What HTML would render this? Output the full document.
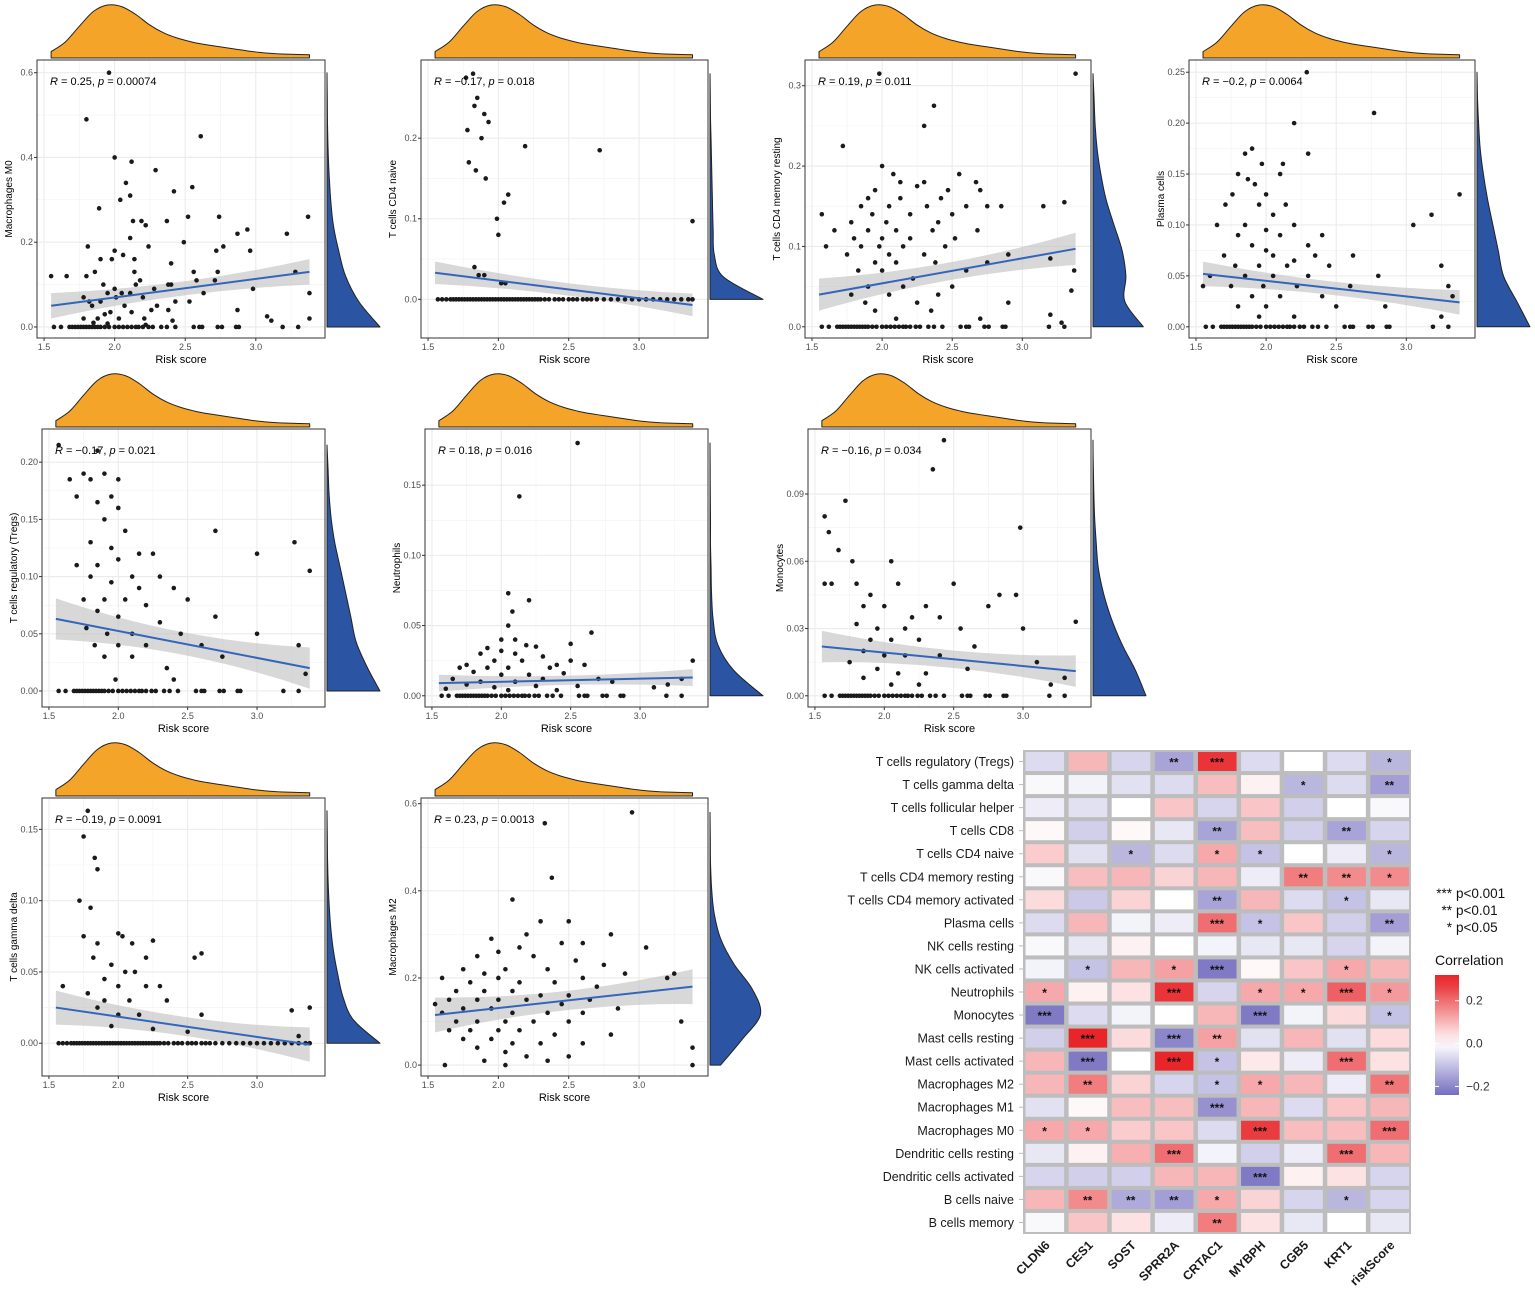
<!DOCTYPE html>
<html><head><meta charset="utf-8"><style>
html,body{margin:0;padding:0;background:#fff;}
svg{display:block;font-family:"Liberation Sans",Arial,sans-serif;}
</style></head><body>
<svg id="fig" width="1535" height="1293" viewBox="0 0 1535 1293"></svg>
<script>
// ---------- DATA ----------
const topDensityX = [1.55,1.65,1.75,1.85,1.95,2.05,2.15,2.25,2.35,2.45,2.55,2.65,2.75,2.85,2.95,3.05,3.15,3.25,3.38];
const topDensityY = [0.12,0.3,0.6,0.88,1.0,0.97,0.82,0.62,0.47,0.37,0.3,0.25,0.21,0.17,0.13,0.1,0.08,0.07,0.06];
const zeroSparse = [1.57,1.62,1.68,1.7,1.72,1.74,1.76,1.78,1.8,1.82,1.84,1.86,1.88,1.9,1.93,1.96,2.0,2.03,2.06,2.09,2.12,2.15,2.17,2.2,2.24,2.27,2.33,2.37,2.43,2.56,2.6,2.62,2.73,2.76,2.86,2.88,3.19,3.3];
const zeroDense = [1.57,1.6,1.63,1.66,1.68,1.7,1.72,1.74,1.76,1.78,1.8,1.82,1.84,1.86,1.88,1.9,1.92,1.94,1.96,1.98,2.0,2.02,2.04,2.06,2.08,2.1,2.12,2.14,2.16,2.18,2.2,2.22,2.24,2.26,2.28,2.3,2.33,2.36,2.4,2.43,2.46,2.5,2.53,2.56,2.6,2.63,2.66,2.7,2.75,2.8,2.85,2.9,2.95,3.0,3.05,3.1,3.15,3.2,3.25,3.3,3.35,3.38];

const panelNames = ["Macrophages M0","T cells CD4 naive","T cells CD4 memory resting","Plasma cells","T cells regulatory (Tregs)","Neutrophils","Monocytes","T cells gamma delta","Macrophages M2"];
const panelR = ["0.25","\u22120.17","0.19","\u22120.2","\u22120.17","0.18","\u22120.16","\u22120.19","0.23"];
const panelP = ["0.00074","0.018","0.011","0.0064","0.021","0.016","0.034","0.0091","0.0013"];
const panelYTicks = [[0,0.2,0.4,0.6],[0,0.1,0.2],[0,0.1,0.2,0.3],[0,0.05,0.1,0.15,0.2,0.25],[0,0.05,0.1,0.15,0.2],[0,0.05,0.1,0.15],[0,0.03,0.06,0.09],[0,0.05,0.1,0.15],[0,0.2,0.4,0.6]];
const panelYTickLabels = [["0.0","0.2","0.4","0.6"],["0.0","0.1","0.2"],["0.0","0.1","0.2","0.3"],["0.00","0.05","0.10","0.15","0.20","0.25"],["0.00","0.05","0.10","0.15","0.20"],["0.00","0.05","0.10","0.15"],["0.00","0.03","0.06","0.09"],["0.00","0.05","0.10","0.15"],["0.0","0.2","0.4","0.6"]];
const panelYDomain = [[-0.026,0.63],[-0.048,0.297],[-0.014,0.332],[-0.011,0.262],[-0.014,0.229],[-0.008,0.19],[-0.005,0.119],[-0.023,0.172],[-0.025,0.613]];
const fitStart = [0.05,0.033,0.04,0.052,0.063,0.009,0.022,0.025,0.115];
const fitEnd = [0.13,-0.007,0.097,0.024,0.02,0.013,0.011,-0.001,0.18];
const bandHalf = [0.03,0.014,0.02,0.012,0.018,0.006,0.007,0.012,0.04];
const rightDensity = [
 [1,0.6,0.35,0.22,0.12,0.07,0.04,0.02,0.01,0.005,0],
 [1,0.25,0.08,0.06,0.05,0.04,0.03,0.02,0.01,0.005,0],
 [0.95,0.6,0.62,0.55,0.4,0.25,0.15,0.08,0.04,0.02,0],
 [1,0.75,0.5,0.4,0.3,0.2,0.12,0.06,0.03,0.01,0],
 [1,0.75,0.55,0.45,0.35,0.25,0.15,0.08,0.04,0.02,0],
 [1,0.45,0.15,0.06,0.03,0.02,0.01,0.01,0.005,0.003,0],
 [1,0.8,0.55,0.35,0.2,0.1,0.06,0.03,0.015,0.005,0],
 [1,0.5,0.3,0.2,0.12,0.07,0.04,0.02,0.01,0.005,0],
 [0.2,0.6,0.95,0.8,0.45,0.2,0.08,0.03,0.01,0.005,0]];
const densityMax = [0.6,0.28,0.315,0.25,0.215,0.18,0.114,0.163,0.58];
const panelZeros = [zeroSparse,zeroDense,zeroSparse,zeroSparse,zeroSparse,zeroSparse,zeroSparse,zeroDense,[]];
const panelPts = [
 [[1.8,.49],[1.96,.6],[2.0,.4],[2.12,.39],[2.61,.45],[2.29,.37],[2.08,.34],[2.11,.31],[2.04,.3],[2.42,.32],[2.55,.33],[1.89,.28],[2.13,.25],[2.19,.25],[2.37,.25],[2.52,.26],[2.74,.26],[3.37,.26],[2.22,.24],[2.11,.21],[3.22,.22],[2.94,.23],[2.87,.22],[2.49,.2],[1.81,.19],[2.0,.18],[2.24,.19],[2.72,.18],[2.77,.19],[2.96,.18],[1.9,.16],[1.98,.16],[2.06,.17],[2.14,.16],[2.4,.15],[1.86,.13],[2.14,.13],[2.56,.13],[2.73,.13],[3.28,.13],[1.55,.12],[1.66,.12],[1.8,.12],[2.18,.11],[2.58,.11],[2.71,.11],[1.92,.1],[2.15,.1],[2.38,.1],[2.4,.1],[2.0,.09],[2.28,.09],[2.98,.09],[1.95,.08],[2.05,.08],[2.11,.08],[2.63,.08],[3.38,.08],[1.78,.07],[2.01,.07],[2.2,.07],[1.82,.06],[1.9,.06],[2.07,.05],[2.3,.05],[2.43,.06],[2.53,.06],[1.84,.05],[2.26,.04],[2.38,.04],[2.87,.04],[1.93,.03],[1.97,.035],[2.12,.035],[3.08,.025],[1.78,.02],[1.88,.02],[2.03,.02],[2.21,.02],[2.41,.015],[3.11,.015],[3.38,.02],[1.85,.01],[1.95,.008],[2.22,.005]],
 [[1.77,.275],[1.82,.28],[1.83,.24],[1.85,.25],[1.9,.23],[1.93,.22],[1.78,.21],[1.88,.2],[2.19,.19],[2.72,.185],[1.79,.17],[1.84,.16],[1.91,.15],[2.07,.13],[2.04,.12],[1.99,.1],[3.38,.097],[2.0,.08],[1.83,.04],[1.86,.03],[1.9,.03],[2.02,.02],[2.05,.02]],
 [[1.98,.315],[3.38,.315],[2.37,.275],[2.3,.25],[1.72,.225],[2.0,.2],[2.08,.19],[2.55,.19],[2.13,.18],[2.3,.18],[2.67,.18],[2.25,.175],[1.95,.17],[2.47,.17],[2.7,.17],[1.9,.16],[2.13,.16],[2.42,.16],[3.3,.155],[1.85,.15],[2.05,.15],[2.32,.15],[2.6,.15],[2.75,.15],[1.93,.14],[1.57,.14],[2.2,.14],[2.5,.14],[2.85,.15],[3.15,.15],[1.78,.13],[2.03,.13],[2.4,.13],[1.66,.12],[1.9,.12],[2.1,.12],[2.36,.12],[2.68,.12],[1.8,.11],[2.0,.11],[2.2,.11],[2.52,.11],[1.6,.1],[1.85,.1],[1.98,.1],[2.15,.1],[2.45,.1],[2.9,.09],[1.75,.09],[2.05,.09],[2.3,.09],[3.2,.085],[1.95,.08],[2.1,.08],[2.38,.08],[2.75,.08],[3.37,.07],[1.83,.07],[2.0,.07],[2.22,.06],[2.6,.07],[1.9,.05],[2.15,.05],[2.5,.05],[1.78,.04],[2.05,.04],[2.4,.04],[3.35,.045],[1.88,.03],[2.25,.03],[2.9,.03],[1.95,.02],[2.35,.02],[3.2,.015],[2.1,.01],[2.7,.01],[3.28,.005]],
 [[2.29,.25],[2.77,.21],[3.38,.13],[2.2,.2],[2.3,.17],[1.85,.17],[1.9,.175],[1.97,.16],[2.12,.16],[1.8,.15],[1.92,.14],[1.87,.145],[2.1,.15],[1.76,.13],[2.0,.13],[1.71,.12],[1.95,.12],[2.14,.12],[2.05,.11],[1.65,.1],[1.85,.1],[2.0,.095],[2.2,.1],[3.05,.1],[3.18,.11],[1.8,.09],[2.1,.09],[2.4,.09],[1.9,.08],[2.0,.075],[2.3,.08],[1.7,.07],[2.05,.07],[2.2,.065],[2.35,.07],[2.62,.07],[1.78,.06],[1.95,.06],[2.15,.06],[2.45,.06],[3.25,.06],[1.6,.05],[1.85,.05],[2.05,.05],[2.3,.05],[2.8,.05],[1.55,.04],[1.75,.04],[1.98,.04],[2.22,.04],[2.6,.04],[1.9,.03],[2.1,.03],[2.4,.03],[3.3,.04],[1.8,.02],[2.0,.02],[2.5,.02],[2.85,.02],[3.33,.03],[1.95,.01],[2.2,.01],[3.25,.01]],
 [[1.57,.215],[1.85,.21],[1.9,.19],[1.75,.19],[1.8,.185],[1.95,.17],[2.0,.185],[1.65,.185],[1.7,.17],[1.85,.165],[2.0,.16],[1.9,.15],[2.05,.14],[2.7,.14],[3.27,.13],[1.8,.13],[1.95,.125],[2.15,.12],[2.25,.12],[3.0,.12],[1.7,.11],[1.85,.11],[2.0,.115],[2.1,.1],[2.3,.1],[3.38,.105],[1.8,.1],[1.95,.095],[2.15,.09],[2.4,.09],[1.75,.08],[1.9,.08],[2.05,.08],[2.2,.075],[2.5,.08],[1.85,.07],[2.0,.065],[2.3,.06],[2.7,.065],[1.77,.055],[1.92,.05],[2.1,.05],[2.45,.05],[3.0,.05],[1.83,.04],[2.0,.04],[2.2,.04],[2.6,.04],[3.3,.04],[1.9,.03],[2.1,.03],[2.35,.02],[2.75,.03],[3.35,.015],[1.98,.01],[2.4,.01]],
 [[2.55,.18],[2.13,.142],[2.05,.073],[2.2,.068],[2.08,.06],[2.65,.045],[2.05,.05],[2.0,.04],[2.1,.04],[2.18,.036],[2.5,.037],[1.9,.034],[2.0,.032],[2.25,.035],[1.85,.03],[2.1,.03],[2.3,.028],[2.5,.025],[1.75,.022],[1.95,.025],[2.15,.025],[2.4,.022],[2.6,.022],[1.7,.02],[1.9,.02],[2.05,.02],[2.35,.02],[3.38,.025],[1.8,.017],[2.0,.015],[2.2,.015],[2.45,.016],[2.7,.012],[1.65,.012],[1.85,.01],[2.1,.01],[2.3,.012],[2.8,.01],[3.3,.012],[1.75,.008],[1.95,.006],[2.25,.007],[2.55,.007],[3.1,.006],[1.6,.005],[2.05,.004],[2.4,.004],[3.2,.008]],
 [[2.43,.114],[2.35,.101],[1.72,.087],[1.57,.08],[1.6,.073],[2.98,.075],[1.67,.065],[1.77,.06],[2.05,.06],[1.57,.05],[1.62,.05],[1.8,.05],[1.9,.045],[2.1,.05],[2.3,.04],[2.5,.05],[2.83,.045],[2.95,.045],[3.38,.033],[1.85,.04],[2.0,.04],[2.2,.035],[2.4,.035],[2.75,.04],[1.8,.032],[1.95,.03],[2.15,.03],[2.55,.03],[3.0,.03],[1.9,.025],[2.05,.025],[2.25,.025],[2.65,.022],[1.85,.02],[2.0,.018],[2.15,.018],[2.4,.018],[3.1,.015],[1.75,.015],[1.95,.012],[2.1,.01],[2.3,.01],[2.6,.012],[3.2,.005],[1.85,.008],[2.05,.005],[2.25,.005],[3.3,.008]],
 [[1.78,.163],[1.75,.145],[1.83,.13],[1.85,.122],[1.72,.1],[1.8,.095],[1.75,.075],[2.0,.077],[2.03,.075],[1.85,.07],[2.1,.07],[2.25,.072],[2.2,.06],[2.6,.063],[2.55,.06],[1.82,.06],[1.95,.055],[2.05,.05],[2.12,.05],[1.9,.045],[2.0,.04],[2.2,.04],[2.3,.04],[1.6,.04],[1.78,.035],[1.9,.03],[2.08,.03],[2.35,.03],[1.85,.025],[2.0,.02],[2.15,.02],[2.6,.02],[3.25,.023],[3.38,.025],[1.95,.012],[2.25,.01],[2.5,.008],[3.3,.005]],
 [[2.33,.555],[2.95,.58],[2.38,.43],[2.1,.38],[2.3,.33],[2.5,.33],[2.6,.28],[2.8,.3],[3.05,.27],[3.25,.21],[1.95,.29],[2.2,.3],[2.15,.27],[2.45,.28],[1.85,.25],[2.0,.26],[2.25,.25],[2.55,.24],[2.75,.23],[1.75,.22],[1.9,.21],[2.05,.22],[2.35,.22],[2.6,.2],[2.9,.21],[1.6,.2],[1.8,.19],[2.0,.2],[2.15,.19],[2.4,.19],[2.7,.18],[3.2,.2],[1.55,.14],[1.7,.17],[1.9,.17],[2.1,.17],[2.3,.16],[2.5,.16],[2.65,.15],[1.65,.15],[1.85,.15],[2.0,.15],[2.2,.15],[2.45,.14],[2.85,.13],[1.6,.12],[1.75,.13],[1.95,.13],[2.1,.12],[2.35,.12],[2.6,.12],[3.3,.1],[1.7,.1],[1.85,.1],[2.05,.1],[2.25,.1],[2.5,.1],[1.65,.08],[1.8,.08],[2.0,.08],[2.15,.08],[2.4,.07],[2.8,.07],[1.75,.06],[1.95,.06],[2.1,.05],[2.3,.05],[2.6,.05],[3.38,.04],[1.85,.04],[2.05,.03],[2.2,.02],[2.5,.02],[1.9,.01],[2.35,.01],[3.38,0],[1.62,0],[2.05,0]]];

const hmRows = ["T cells regulatory (Tregs)","T cells gamma delta","T cells follicular helper","T cells CD8","T cells CD4 naive","T cells CD4 memory resting","T cells CD4 memory activated","Plasma cells","NK cells resting","NK cells activated","Neutrophils","Monocytes","Mast cells resting","Mast cells activated","Macrophages M2","Macrophages M1","Macrophages M0","Dendritic cells resting","Dendritic cells activated","B cells naive","B cells memory"];
const hmCols = ["CLDN6","CES1","SOST","SPRR2A","CRTAC1","MYBPH","CGB5","KRT1","riskScore"];
const hmValues = [
 [-0.06,0.1,-0.07,-0.15,0.28,-0.06,0,-0.06,-0.12],
 [-0.01,-0.02,-0.05,-0.06,0.09,0.02,-0.12,-0.06,-0.16],
 [-0.03,-0.05,0,0.08,-0.07,0.08,-0.08,0,-0.01],
 [0.01,-0.08,0.01,-0.04,-0.15,0.09,-0.08,-0.15,-0.07],
 [0.07,-0.05,-0.12,-0.06,0.12,-0.1,0,-0.03,-0.12],
 [-0.01,0.09,0.1,0.06,0.1,-0.03,0.18,0.16,0.16],
 [0.05,-0.09,0.06,0,-0.15,0.1,-0.06,-0.1,-0.04],
 [-0.06,0.1,-0.02,-0.03,0.2,-0.1,0.08,-0.08,-0.16],
 [-0.01,-0.04,0.02,0,-0.02,-0.04,-0.04,-0.07,-0.02],
 [-0.02,-0.1,0.1,0.13,-0.22,0.01,0.08,0.12,0.1],
 [0.12,0.02,0.04,0.28,-0.07,0.12,0.12,0.22,0.14],
 [-0.22,-0.06,-0.02,0,0.1,-0.22,-0.02,0.05,-0.1],
 [-0.08,0.3,0.05,-0.2,0.13,-0.05,0.1,-0.05,0.05],
 [0.1,-0.22,0,0.3,-0.1,0.03,-0.03,0.2,0.04],
 [0.1,0.18,0.06,-0.07,-0.1,0.12,0.1,-0.03,0.19],
 [-0.05,0.01,0.09,0.09,-0.18,0.1,-0.06,0.08,0.1],
 [0.12,0.12,0.07,0.08,-0.06,0.27,0.09,0.09,0.2],
 [-0.04,0.02,0.11,0.2,-0.02,-0.08,-0.03,0.2,0.1],
 [-0.07,-0.08,-0.08,0.1,0.1,-0.22,0.02,0.04,-0.07],
 [0.1,0.16,-0.14,-0.16,0.12,0.06,-0.07,-0.12,-0.07],
 [-0.01,0.08,0.04,-0.03,0.18,0.04,-0.04,0,-0.04]];
const hmSig = [
 ["","","","**","***","","","","*"],
 ["","","","","","","*","","**"],
 ["","","","","","","","",""],
 ["","","","","**","","","**",""],
 ["","","*","","*","*","","","*"],
 ["","","","","","","**","**","*"],
 ["","","","","**","","","*",""],
 ["","","","","***","*","","","**"],
 ["","","","","","","","",""],
 ["","*","","*","***","","","*",""],
 ["*","","","***","","*","*","***","*"],
 ["***","","","","","***","","","*"],
 ["","***","","***","**","","","",""],
 ["","***","","***","*","","","***",""],
 ["","**","","","*","*","","","**"],
 ["","","","","***","","","",""],
 ["*","*","","","","***","","","***"],
 ["","","","***","","","","***",""],
 ["","","","","","***","","",""],
 ["","**","**","**","*","","","*",""],
 ["","","","","**","","","",""]];
const legendTicks = [0.2,0.0,-0.2];
const legendTickLabels = ["0.2","0.0","\u22120.2"];

// ---------- LAYOUT ----------
const NS = "http://www.w3.org/2000/svg";
const svg = document.getElementById('fig');
function mk(tag, attrs, parent, text){
  const e = document.createElementNS(NS, tag);
  for (const k in attrs) e.setAttribute(k, attrs[k]);
  if (text !== undefined) e.textContent = text;
  (parent||svg).appendChild(e);
  return e;
}
// Catmull-Rom smooth path through points (no initial M)
function smooth(pts){
  let d='';
  for (let i=0;i<pts.length-1;i++){
    const p0=pts[Math.max(0,i-1)], p1=pts[i], p2=pts[i+1], p3=pts[Math.min(pts.length-1,i+2)];
    const c1x=p1[0]+(p2[0]-p0[0])/6, c1y=p1[1]+(p2[1]-p0[1])/6;
    const c2x=p2[0]-(p3[0]-p1[0])/6, c2y=p2[1]-(p3[1]-p1[1])/6;
    d+=` C${c1x.toFixed(1)},${c1y.toFixed(1)} ${c2x.toFixed(1)},${c2y.toFixed(1)} ${p2[0].toFixed(1)},${p2[1].toFixed(1)}`;
  }
  return d;
}
const boxL = [37,421,805,1189,42,425,808,42,421];
const boxR = [325,708,1091,1475,325,708,1091,325,708];
const rowOff = [0,0,0,0,369,369,369,738,738];
const xDom = [1.45,3.49];

for (let i=0;i<9;i++){
  const L=boxL[i], R=boxR[i], T=60+rowOff[i], B=338+rowOff[i];
  const g = mk('g',{});
  
  
  const sx = v => L + (v - xDom[0])/(xDom[1]-xDom[0])*(R-L);
  const yd = panelYDomain[i];
  const sy = v => B - (v - yd[0])/(yd[1]-yd[0])*(B-T);
  const bg = mk('rect',{x:L,y:T,width:R-L,height:B-T,fill:'#fff'},g);
   
  [1.75,2.25,2.75,3.25].forEach(v=>mk('line',{x1:sx(v),x2:sx(v),y1:T,y2:B,stroke:'#f2f2f2','stroke-width':0.6},g));
  const yt = panelYTicks[i];
  for (let k=0;k<yt.length-1;k++){const m=(yt[k]+yt[k+1])/2; mk('line',{x1:L,x2:R,y1:sy(m),y2:sy(m),stroke:'#f2f2f2','stroke-width':0.6},g);}
  [1.5,2.0,2.5,3.0].forEach(v=>mk('line',{x1:sx(v),x2:sx(v),y1:T,y2:B,stroke:'#ebebeb','stroke-width':1.1},g));
  yt.forEach(v=>mk('line',{x1:L,x2:R,y1:sy(v),y2:sy(v),stroke:'#ebebeb','stroke-width':1.1},g));
  const x0=1.55,x1=3.38,xm=(x0+x1)/2,ym=(fitStart[i]+fitEnd[i])/2;
  const bh=bandHalf[i];
  const band = mk('path',{d:`M${sx(x0)},${sy(fitStart[i]+bh)} Q${sx(xm)},${sy(ym+bh*0.1)} ${sx(x1)},${sy(fitEnd[i]+bh)} L${sx(x1)},${sy(fitEnd[i]-bh)} Q${sx(xm)},${sy(ym-bh*0.1)} ${sx(x0)},${sy(fitStart[i]-bh)} Z`,fill:'#bebebe','fill-opacity':0.6},g);
   
  panelZeros[i].forEach(x=>{const c=mk('circle',{cx:sx(x),cy:sy(0),r:2.3,fill:'#1a1a1a'},g);
     });
  panelPts[i].forEach(p=>{const c=mk('circle',{cx:sx(p[0]),cy:sy(p[1]),r:2.3,fill:'#1a1a1a'},g);
     });
  const fl = mk('line',{x1:sx(x0),y1:sy(fitStart[i]),x2:sx(x1),y2:sy(fitEnd[i]),stroke:'#3366bb','stroke-width':2},g);
   
  mk('rect',{x:L,y:T,width:R-L,height:B-T,fill:'none',stroke:'#333','stroke-width':1},g);
  [1.5,2.0,2.5,3.0].forEach(v=>{mk('line',{x1:sx(v),x2:sx(v),y1:B,y2:B+3,stroke:'#333'},g);
    const t=mk('text',{x:sx(v),y:B+12,'font-size':9,fill:'#4d4d4d','text-anchor':'middle'},g,v.toFixed(1));
     });
  yt.forEach((v,k)=>{mk('line',{x1:L-3,x2:L,y1:sy(v),y2:sy(v),stroke:'#333'},g);
    const t=mk('text',{x:L-4,y:sy(v)+3,'font-size':9,fill:'#4d4d4d','text-anchor':'end'},g,panelYTickLabels[i][k]);
     });
  const xt=mk('text',{x:(L+R)/2,y:B+25,'font-size':11,fill:'#000','text-anchor':'middle'},g,'Risk score');
   
  const ytl=mk('text',{x:0,y:0,'font-size':10,fill:'#000','text-anchor':'middle',transform:`translate(${L-25},${(T+B)/2}) rotate(-90)`},g,panelNames[i]);
   
  const st=mk('text',{x:L+13,y:T+25,'font-size':11,fill:'#000'},g);
   
  mk('tspan',{'font-style':'italic'},st,'R'); mk('tspan',{},st,' = '+panelR[i]+', ');
  mk('tspan',{'font-style':'italic'},st,'p'); mk('tspan',{},st,' = '+panelP[i]);
  // top density (smooth)
  const base=T-2, h=53;
  const tpts = topDensityX.map((x,k)=>[sx(x), base-topDensityY[k]*h]);
  let d=`M${sx(topDensityX[0])},${base} L${tpts[0][0]},${tpts[0][1]}`+smooth(tpts)+` L${tpts[tpts.length-1][0]},${base} Z`;
  const td=mk('path',{d:d,fill:'#f5a42a',stroke:'#222','stroke-width':1,'stroke-linejoin':'round'},g);
   
  // right density (smooth)
  const rd=rightDensity[i], n=rd.length-1, dx=R+2, w=53;
  const rpts = rd.map((v,k)=>[dx+v*w, sy(densityMax[i]*k/n)]);
  let d2=`M${dx},${sy(0)} L${rpts[0][0]},${rpts[0][1]}`+smooth(rpts)+` L${dx},${sy(densityMax[i])} Z`;
  const rdp=mk('path',{d:d2,fill:'#2b55a3',stroke:'#222','stroke-width':1,'stroke-linejoin':'round'},g);
   
}

// ---------- HEATMAP ----------
const hm = mk('g',{});
 
const HX=1023, HY=750, HW=388, HH=484;
const cw=HW/hmCols.length, ch=HH/hmRows.length;
function mix(a,b,t){return a.map((v,k)=>Math.round(v+(b[k]-v)*t));}
function color(v){
  if (v>=0){const c=mix([255,255,255],[232,38,42],Math.min(1,v/0.3));return `rgb(${c})`;}
  const c=mix([255,255,255],[111,104,189],Math.min(1,-v/0.25));return `rgb(${c})`;
}
mk('rect',{x:HX,y:HY,width:HW,height:HH,fill:'#bdbdbd'},hm);
hmRows.forEach((r,ri)=>{
  const t=mk('text',{x:HX-9,y:HY+ch*ri+ch/2+4.5,'font-size':12.5,fill:'#1a1a1a','text-anchor':'end'},hm,r);
   
  mk('line',{x1:HX-4,x2:HX,y1:HY+ch*ri+ch/2,y2:HY+ch*ri+ch/2,stroke:'#bbb'},hm);
  hmCols.forEach((c,ci)=>{
    const cell=mk('rect',{x:HX+ci*cw+2.5,y:HY+ri*ch+2,width:cw-4.5,height:ch-4,fill:color(hmValues[ri][ci])},hm);
     
    if (hmSig[ri][ci]){
      const s=mk('text',{x:HX+ci*cw+cw/2,y:HY+ri*ch+ch/2+5,'font-size':12,'font-weight':'bold',fill:'#111','text-anchor':'middle'},hm,hmSig[ri][ci]);
       
    }
  });
});
hmCols.forEach((c,ci)=>{
  const cx=HX+ci*cw+cw/2+6, cy=HY+HH+12;
  const t=mk('text',{x:0,y:0,'font-size':12.5,'font-weight':'bold',fill:'#1a1a1a','text-anchor':'end',transform:`translate(${cx},${cy}) rotate(-45)`},hm,c);
   
});
// legend
const lg = mk('g',{});
 
[["***","p<0.001"],["**","p<0.01"],["*","p<0.05"]].forEach((p,k)=>{
  const y=898+k*17;
  mk('text',{x:1452,y:y,'font-size':13.5,fill:'#111','text-anchor':'end'},lg,p[0]);
  const t=mk('text',{x:1456,y:y,'font-size':13.5,fill:'#111'},lg,p[1]);
   
});
const lt=mk('text',{x:1435,y:965,'font-size':14,fill:'#111'},lg,'Correlation');
 
const defs=mk('defs',{});
const grad=mk('linearGradient',{id:'cg',x1:0,y1:0,x2:0,y2:1},defs);
const cbTop=975, cbBot=1095, vTop=0.32, vBot=-0.24;
for (let k=0;k<=10;k++){const v=vTop+(vBot-vTop)*k/10; mk('stop',{offset:k/10,'stop-color':color(v)},grad);}
const cb=mk('rect',{x:1435,y:cbTop,width:24,height:cbBot-cbTop,fill:'url(#cg)'},lg);
 
const cy = v => cbTop + (vTop - v)/(vTop - vBot)*(cbBot-cbTop);
legendTicks.forEach((v,k)=>{
  mk('line',{x1:1435,x2:1439,y1:cy(v),y2:cy(v),stroke:'#fff'},lg);
  mk('line',{x1:1455,x2:1459,y1:cy(v),y2:cy(v),stroke:'#fff'},lg);
  mk('text',{x:1466,y:cy(v)+4,'font-size':12,fill:'#333'},lg,legendTickLabels[k]);
});
</script>
</body></html>
